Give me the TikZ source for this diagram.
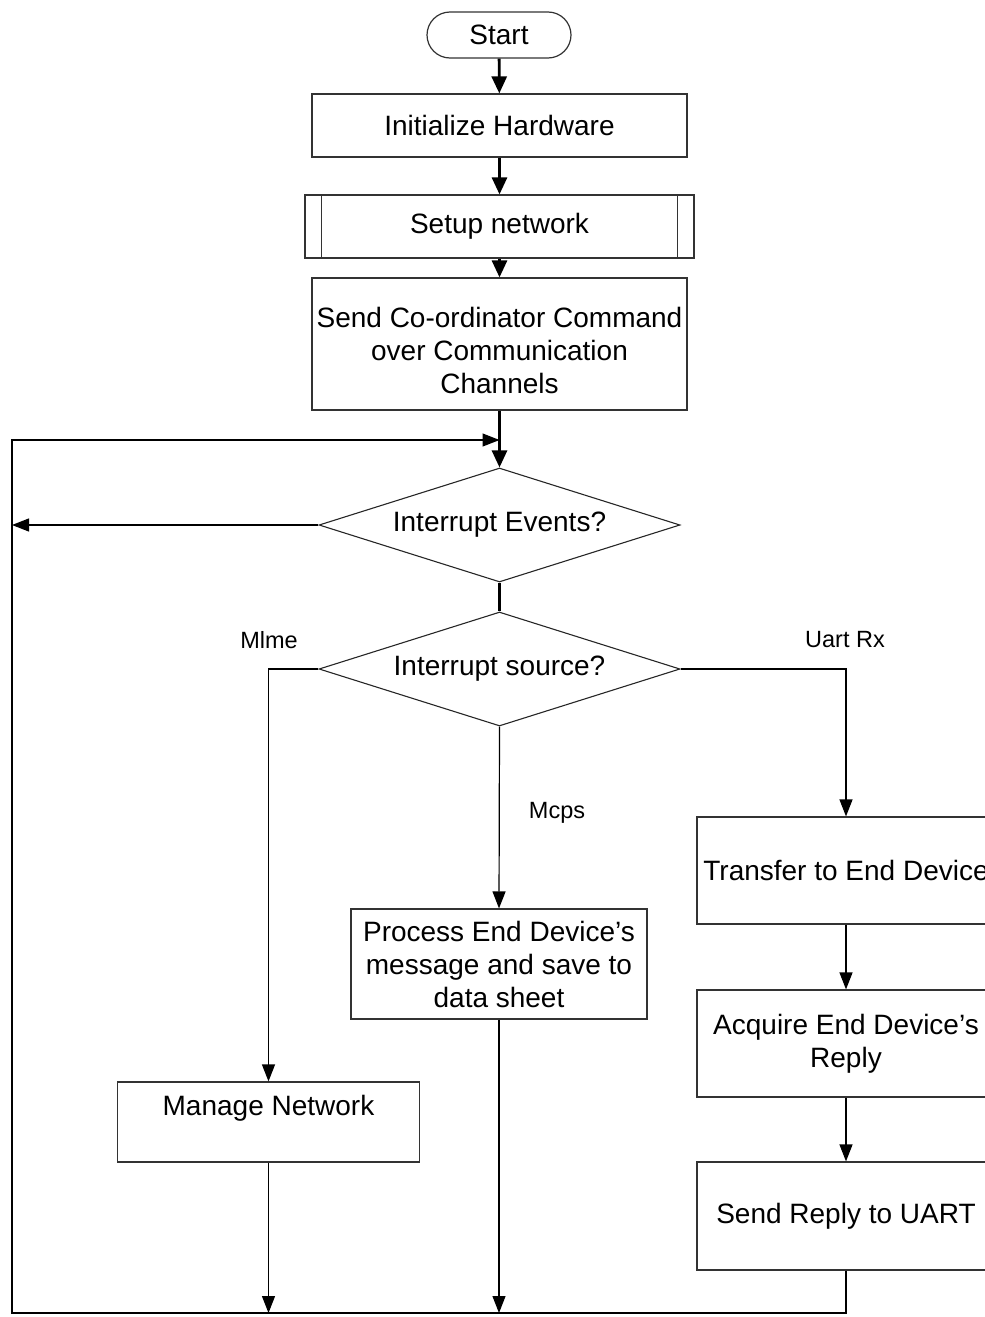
\documentclass[tikz,border=0pt]{standalone}
\usepackage{fontspec}
\setmainfont{Liberation Sans}
\usetikzlibrary{arrows.meta,shapes.geometric}
\begin{document}
\begin{tikzpicture}[x=1pt,y=-1pt,
  box/.style={draw=black!80,line width=1.2pt,fill=white,inner sep=0pt,align=center,
    font=\fontsize{28}{33}\selectfont},
  dec/.style={draw=black!85,line width=1.1pt,shape=diamond,shape aspect=3.17,inner sep=0pt,
    font=\fontsize{28}{33}\selectfont},
  thick arrow/.style={line width=2.8pt,-{Triangle[length=17pt,width=15pt]}},
  thin arrow/.style={line width=1.2pt,-{Triangle[length=17pt,width=13pt]}},
  lbl/.style={font=\fontsize{23.5}{27}\selectfont},
  boxtext/.style={font=\fontsize{28}{33}\selectfont,align=center}]
\useasboundingbox (0,0) rectangle (985,1317);
\clip (0,0) rectangle (985,1317);
% nodes
\node[box,rounded corners=23pt,minimum width=144pt,minimum height=46pt] (start) at (499,35) {Start};
\node[box,minimum width=375pt,minimum height=63pt] (init) at (499.5,125.5) {Initialize Hardware};
\node[box,minimum width=389pt,minimum height=63pt] (setup) at (499.5,226.5) {Setup network};
\draw[draw=black!80,line width=1.2pt] ([xshift=17pt]setup.north west) -- ([xshift=17pt]setup.south west)
  ([xshift=-17pt]setup.north east) -- ([xshift=-17pt]setup.south east);
\node[box,minimum width=375pt,minimum height=132pt,
  label={[yshift=-6pt,boxtext]center:Send Co-ordinator Command\\over Communication\\Channels}] (send) at (499.5,344) {};
\node[dec,minimum width=361pt,minimum height=114pt] (events) at (499.5,525) {\raisebox{-3pt}{Interrupt Events?}};
\node[dec,minimum width=361pt,minimum height=114pt] (source) at (499.5,669) {\raisebox{-3pt}{Interrupt source?}};
\node[box,minimum width=296pt,minimum height=110pt] (process) at (499,964) {Process End Device’s\\message and save to\\data sheet};
\node[box,minimum width=302pt,minimum height=80pt,
  label={[yshift=14pt,boxtext]center:Manage Network}] (manage) at (268.5,1122) {};
\node[box,minimum width=298pt,minimum height=107pt] (transfer) at (846,870.5) {Transfer to End Device};
\node[box,minimum width=298pt,minimum height=107pt] (acquire) at (846,1043.5) {Acquire End Device’s\\Reply};
\node[box,minimum width=298pt,minimum height=108pt] (reply) at (846,1216) {Send Reply to UART};
% labels
\node[lbl] (lmlme) at (269,640) {Mlme};
\node[lbl] (lmcps) at (557,813) {Mcps};
\node[lbl] (luart) at (845,640) {Uart Rx};
% helper coordinates
\coordinate (join) at (499.5,440);
\coordinate (loopL) at (12,440);
\coordinate (leftE) at (12,525);
\coordinate (botL) at (12,1313);
\coordinate (botR) at (846,1313);
\coordinate (botM) at (manage.south |- botL);
\coordinate (botP) at (process.south |- botL);
% connectors
\draw[thick arrow] (start) -- (init);
\draw[thick arrow] (init) -- (setup);
\draw[thick arrow] (setup) -- (send);
\draw[thick arrow] (send) -- (events);
\draw[line width=2.8pt] (events.south) -- (source.north);
\draw[thin arrow] (events.west) -- (leftE);
\draw[thin arrow] (reply.south) -- (botR) -- (botL) -- (loopL) -- (join);
\draw[thin arrow] (source.west) -| (manage.north);
\draw[thin arrow] (source.east) -| (transfer.north);
\draw[thin arrow] (source.south) -- (process.north);
\draw[thin arrow] (transfer) -- (acquire);
\draw[thin arrow] (acquire) -- (reply);
\draw[thin arrow] (manage.south) -- (botM);
\draw[thin arrow] (process.south) -- (botP);
\end{tikzpicture}
\end{document}
